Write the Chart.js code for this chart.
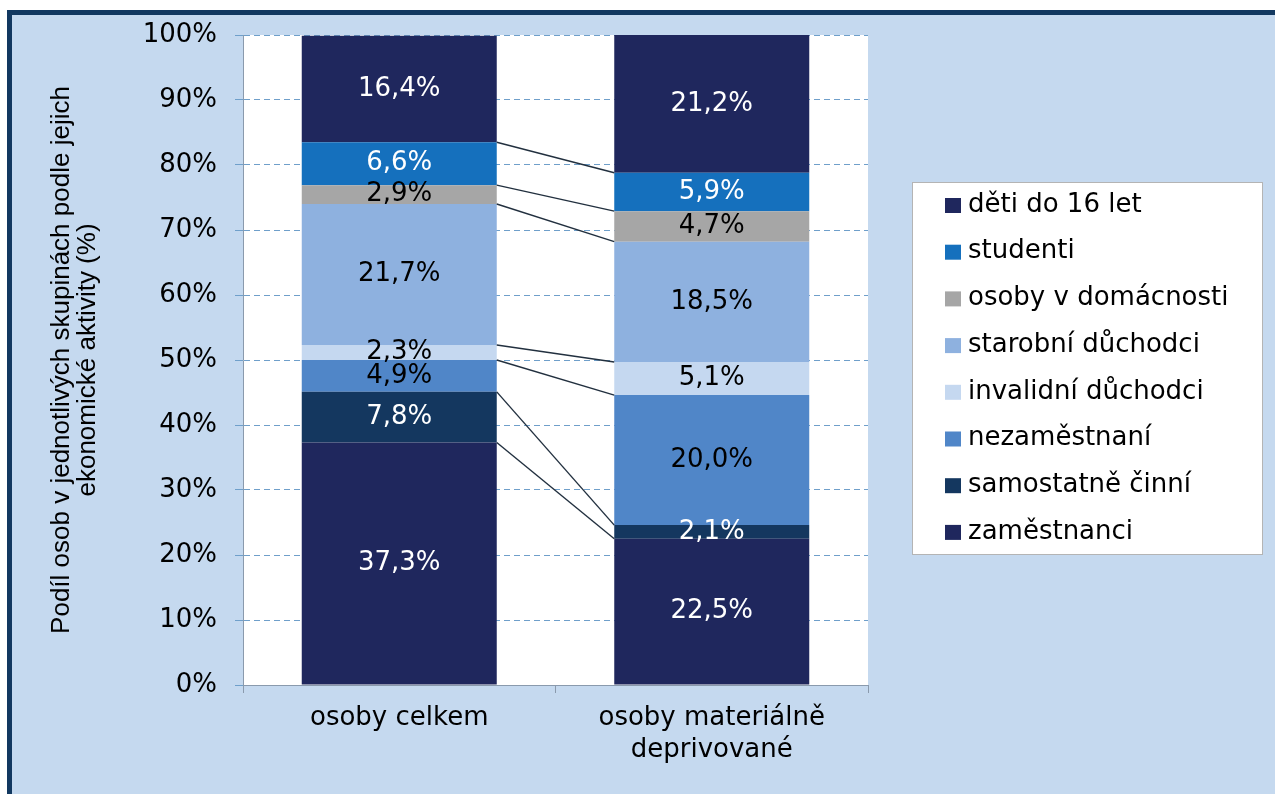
<!DOCTYPE html>
<html>
<head>
<meta charset="utf-8">
<script src="https://cdn.jsdelivr.net/npm/chart.js@4/dist/chart.umd.min.js"></script>
<style>
  html, body { margin: 0; padding: 0; background: #fff; }
  #graf { display: block; }
</style>
</head>
<body>
<canvas id="graf" width="1275" height="794"></canvas>
<script>
// data
var kategorie = ['osoby celkem', ['osoby materiálně', 'deprivované']];
var zamestnanci = [37.3, 22.5];
var samostatne = [7.8, 2.1];
var nezamestnani = [4.9, 20.0];
var invalidni = [2.3, 5.1];
var starobni = [21.7, 18.5];
var domacnost = [2.9, 4.7];
var studenti = [6.6, 5.9];
var deti = [16.4, 21.2];
var yTicky = [0, 10, 20, 30, 40, 50, 60, 70, 80, 90, 100];

var pismo = 'DejaVu Sans';

var serie = [
	{ label: 'zaměstnanci', data: zamestnanci, barva: '#1f275d', text: '#fff' },
	{ label: 'samostatně činní', data: samostatne, barva: '#14375f', text: '#fff' },
	{ label: 'nezaměstnaní', data: nezamestnani, barva: '#5086c8', text: '#000' },
	{ label: 'invalidní důchodci', data: invalidni, barva: '#c5d8f0', text: '#000' },
	{ label: 'starobní důchodci', data: starobni, barva: '#8eb1df', text: '#000' },
	{ label: 'osoby v domácnosti', data: domacnost, barva: '#a6a6a6', text: '#000' },
	{ label: 'studenti', data: studenti, barva: '#1570bd', text: '#fff' },
	{ label: 'děti do 16 let', data: deti, barva: '#1f275d', text: '#fff' }
];

function formatCislo(v) {
	return v.toFixed(1).replace('.', ',') + '%';
}

// pozadi, ramecek a bila plocha grafu
var pozadi = {
	id: 'pozadi',
	beforeDraw: function(chart) {
		var ctx = chart.ctx, a = chart.chartArea;
		ctx.save();
		ctx.fillStyle = '#ffffff';
		ctx.fillRect(0, 0, chart.width, chart.height);
		ctx.fillStyle = '#c5d9ef';
		ctx.fillRect(7, 10, chart.width - 7, chart.height - 10);
		ctx.fillStyle = '#123860';
		ctx.fillRect(7, 10, chart.width - 7, 5);
		ctx.fillRect(7, 10, 5, chart.height - 10);
		ctx.fillStyle = '#ffffff';
		ctx.fillRect(a.left, a.top, a.right - a.left, a.bottom - a.top);
		ctx.restore();
	}
};

// spojnice mezi sloupci + popisky hodnot
var spojnice = {
	id: 'spojnice',
	afterDatasetsDraw: function(chart) {
		var ctx = chart.ctx;
		ctx.save();
		ctx.strokeStyle = '#22303f';
		ctx.lineWidth = 1.4;
		for (var i = 0; i < serie.length - 1; i++) {
			var m = chart.getDatasetMeta(i).data;
			ctx.beginPath();
			ctx.moveTo(m[0].x + m[0].width / 2, m[0].y);
			ctx.lineTo(m[1].x - m[1].width / 2, m[1].y);
			ctx.stroke();
		}
		ctx.font = '26px "' + pismo + '"';
		ctx.textAlign = 'center';
		ctx.textBaseline = 'middle';
		for (var j = 0; j < serie.length; j++) {
			var body = chart.getDatasetMeta(j).data;
			for (var k = 0; k < body.length; k++) {
				ctx.fillStyle = serie[j].text;
				ctx.fillText(formatCislo(serie[j].data[k]), body[k].x, (body[k].y + body[k].base) / 2);
			}
		}
		ctx.restore();
	}
};

// legenda v bilem ramecku
var legenda = {
	id: 'legenda',
	afterDraw: function(chart) {
		var ctx = chart.ctx;
		ctx.save();
		ctx.fillStyle = '#ffffff';
		ctx.fillRect(912, 182, 351, 373);
		ctx.strokeStyle = '#b4b4b4';
		ctx.lineWidth = 1;
		ctx.strokeRect(912.5, 182.5, 350, 372);
		ctx.font = '26px "' + pismo + '"';
		ctx.textBaseline = 'middle';
		ctx.textAlign = 'left';
		for (var i = 0; i < serie.length; i++) {
			var s = serie[serie.length - 1 - i];
			var y = 205 + i * 46.7;
			ctx.fillStyle = s.barva;
			ctx.fillRect(945, y - 7, 16, 15);
			ctx.fillStyle = '#000';
			ctx.fillText(s.label, 968, y);
		}
		ctx.restore();
	}
};

var datasety = serie.map(function(s) {
	return {
		label: s.label,
		data: s.data,
		backgroundColor: s.barva,
		borderWidth: 0,
		categoryPercentage: 1.0,
		barPercentage: 0.624
	};
});

var ctx = document.getElementById('graf');

var graf = new Chart(ctx, {
	type: 'bar',
	data: {
		labels: kategorie,
		datasets: datasety
	},
	options: {
		responsive: false,
		animation: false,
		layout: { padding: { top: 35, right: 407, bottom: 0, left: 0 } },
		plugins: {
			legend: { display: false },
			tooltip: { enabled: false }
		},
		scales: {
			x: {
				stacked: true,
				grid: { drawOnChartArea: false, drawTicks: true, tickLength: 8, color: '#8a9aad', offset: true },
				border: { display: true, color: '#8a9aad', width: 1 },
				ticks: {
					color: '#000',
					padding: 10,
					maxRotation: 0,
					font: { family: pismo, size: 26, lineHeight: 1.2 }
				},
				afterFit: function(scale) { scale.height = 109; }
			},
			y: {
				stacked: true,
				min: 0,
				max: 100,
				afterBuildTicks: function(scale) {
					scale.ticks = yTicky.map(function(v) { return { value: v }; });
				},
				grid: { color: '#6f9fca', tickLength: 8, lineWidth: 1 },
				border: { display: true, color: '#8a9aad', width: 1, dash: [6, 4] },
				ticks: {
					color: '#000',
					padding: 18,
					font: { family: pismo, size: 26 },
					callback: function(v) { return v + '%'; }
				},
				title: {
					display: true,
					text: ['Podíl osob v jednotlivých skupinách podle jejich', 'ekonomické aktivity (%)'],
					color: '#000',
					font: { family: 'Liberation Sans', size: 26, lineHeight: 1.0 },
					padding: { top: 49, bottom: 0 }
				},
				afterFit: function(scale) { scale.width = 243; }
			}
		}
	},
	plugins: [pozadi, spojnice, legenda]
});
</script>
</body>
</html>
